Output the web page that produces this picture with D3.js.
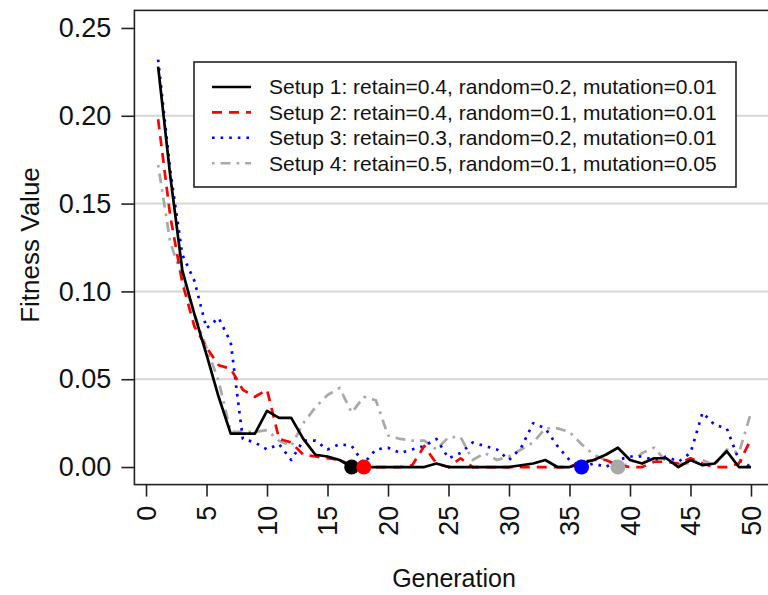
<!DOCTYPE html>
<html>
<head>
<meta charset="utf-8">
<script src="https://cdn.jsdelivr.net/npm/d3@7.9.0/dist/d3.min.js"></script>
<style>
  html, body { margin: 0; padding: 0; background: #fff; }
  svg { display: block; font-family: "Liberation Sans", Arial, sans-serif; }
</style>
</head>
<body>
<svg id="chart" width="768" height="595"></svg>
<script>
// generations 1..50
const generations = d3.range(1, 51);

const setup1 = [0.228, 0.166, 0.112, 0.087, 0.064, 0.040, 0.019, 0.019, 0.019, 0.032,
  0.028, 0.028, 0.016, 0.007, 0.006, 0.004, 0, 0, 0, 0,
  0, 0, 0, 0.002, 0, 0, 0, 0, 0, 0,
  0.001, 0.002, 0.004, 0, 0, 0.002, 0.004, 0.007, 0.011, 0.004,
  0.002, 0.005, 0.005, 0, 0.004, 0.001, 0.002, 0.009, 0, 0];

const setup2 = [0.198, 0.143, 0.105, 0.080, 0.068, 0.058, 0.056, 0.044, 0.040, 0.044,
  0.016, 0.014, 0.007, 0.006, 0.005, 0.004, 0.001, 0, 0, 0,
  0, 0.001, 0.012, 0.002, 0, 0.005, 0, 0, 0, 0,
  0, 0, 0, 0, 0, 0.003, 0.004, 0.004, 0.001, 0,
  0, 0.003, 0.003, 0.002, 0.005, 0.002, 0, 0, 0.002, 0.016];

const setup3 = [0.232, 0.169, 0.121, 0.106, 0.079, 0.085, 0.071, 0.016, 0.014, 0.010,
  0.013, 0.004, 0.015, 0.015, 0.010, 0.013, 0.012, 0.002, 0.010, 0.011,
  0.008, 0.010, 0.012, 0.016, 0.005, 0.008, 0.014, 0.012, 0.010, 0.004,
  0.011, 0.025, 0.022, 0.012, 0.004, 0, 0.002, 0, 0.004, 0.006,
  0.006, 0.004, 0.006, 0.003, 0.008, 0.031, 0.024, 0.022, 0.004, 0];

const setup4 = [0.172, 0.128, 0.108, 0.087, 0.068, 0.049, 0.020, 0.020, 0.020, 0.021,
  0.015, 0.012, 0.025, 0.034, 0.041, 0.045, 0.031, 0.040, 0.038, 0.018,
  0.016, 0.015, 0.015, 0.010, 0.017, 0.017, 0.004, 0.008, 0.004, 0.006,
  0.010, 0.014, 0.022, 0.022, 0.020, 0.013, 0.007, 0.004, 0, 0.002,
  0.008, 0.011, 0.003, 0.002, 0.002, 0.004, 0.001, 0.010, 0.008, 0.031];

// generation where each setup first reaches zero
const convergedAt = [17, 18, 36, 39];

const setupLabels = [
  'Setup 1: retain=0.4, random=0.2, mutation=0.01',
  'Setup 2: retain=0.4, random=0.1, mutation=0.01',
  'Setup 3: retain=0.3, random=0.2, mutation=0.01',
  'Setup 4: retain=0.5, random=0.1, mutation=0.05'
];

const yTicks = [0, 0.05, 0.10, 0.15, 0.20, 0.25];
const xTicks = d3.range(0, 51, 5);
const gridValues = [0.05, 0.10, 0.15, 0.20];

const colors = ['#000000', '#ff0000', '#0000ff', '#a9a9a9'];
const dashes = [null, '10,7', '2.6,6', '2.6,6,10,6'];

const series = [setup1, setup2, setup3, setup4].map((vals, i) => ({
  values: vals.map((v, j) => ({ g: generations[j], v })),
  color: colors[i],
  dash: dashes[i],
  label: setupLabels[i],
  conv: convergedAt[i]
}));

const svg = d3.select('#chart');

// R-style 4% padding on the data range
const x = d3.scaleLinear().domain([1 - 49 * 0.04, 50 + 49 * 0.04]).range([134.4, 774.7]);
const y = d3.scaleLinear().domain([-0.01, 0.26]).range([484.6, 10.4]);

const [x0, x1] = x.range();
const [yb, yt] = y.range();

// grid
svg.append('g')
  .selectAll('line')
  .data(gridValues)
  .join('line')
  .attr('x1', x0).attr('x2', x1)
  .attr('y1', d => y(d)).attr('y2', d => y(d))
  .attr('stroke', '#d6d6d6')
  .attr('stroke-width', 2);

// lines
const line = d3.line().x(d => x(d.g)).y(d => y(d.v));

svg.append('g')
  .selectAll('path')
  .data(series.slice().reverse())
  .join('path')
  .attr('d', d => line(d.values))
  .attr('fill', 'none')
  .attr('stroke', d => d.color)
  .attr('stroke-width', 2.7)
  .attr('stroke-dasharray', d => d.dash)
  .attr('stroke-linejoin', 'round');

// convergence markers
svg.append('g')
  .selectAll('circle')
  .data(series)
  .join('circle')
  .attr('cx', d => x(d.conv))
  .attr('cy', y(0))
  .attr('r', 7.5)
  .attr('fill', d => d.color);

// box
svg.append('rect')
  .attr('x', x0).attr('y', yt)
  .attr('width', x1 - x0).attr('height', yb - yt)
  .attr('fill', 'none')
  .attr('stroke', '#222')
  .attr('stroke-width', 1.6);

// y axis
const yAxis = svg.append('g')
  .attr('transform', `translate(${x0},0)`)
  .call(d3.axisLeft(y).tickValues(yTicks).tickFormat(d3.format('.2f')).tickSize(13).tickPadding(10));
yAxis.select('.domain').remove();
yAxis.selectAll('line').attr('stroke', '#222').attr('stroke-width', 1.6);
yAxis.selectAll('text')
  .attr('font-family', '"Liberation Sans", Arial, sans-serif')
  .attr('font-size', 27)
  .attr('fill', '#111');

// x axis
const xAxis = svg.append('g')
  .attr('transform', `translate(0,${yb})`)
  .call(d3.axisBottom(x).tickValues(xTicks).tickSize(12));
xAxis.select('.domain').remove();
xAxis.selectAll('line').attr('stroke', '#222').attr('stroke-width', 1.6);
xAxis.selectAll('text')
  .attr('font-family', '"Liberation Sans", Arial, sans-serif')
  .attr('font-size', 27)
  .attr('fill', '#111')
  .attr('transform', 'rotate(-90)')
  .attr('x', -21)
  .attr('y', 0)
  .attr('dy', '0.35em')
  .attr('text-anchor', 'end');

// axis titles
svg.append('text')
  .attr('x', 454).attr('y', 587)
  .attr('text-anchor', 'middle')
  .attr('font-size', 25)
  .attr('fill', '#111')
  .text('Generation');

svg.append('text')
  .attr('transform', 'translate(39,245) rotate(-90)')
  .attr('text-anchor', 'middle')
  .attr('font-size', 26)
  .attr('fill', '#111')
  .text('Fitness Value');

// legend
const legend = svg.append('g');
legend.append('rect')
  .attr('x', 194).attr('y', 62)
  .attr('width', 542).attr('height', 125)
  .attr('fill', '#fff')
  .attr('stroke', '#222')
  .attr('stroke-width', 1.6);

const rows = legend.selectAll('g.row')
  .data(series)
  .join('g')
  .attr('class', 'row')
  .attr('transform', (d, i) => `translate(0,${87 + i * 25.4})`);

rows.append('line')
  .attr('x1', 212).attr('x2', 251)
  .attr('stroke', d => d.color)
  .attr('stroke-width', 2.6)
  .attr('stroke-dasharray', d => d.dash);

rows.append('text')
  .attr('x', 269)
  .attr('dy', '0.35em')
  .attr('font-size', 21)
  .attr('fill', '#111')
  .text(d => d.label);
</script>
</body>
</html>
